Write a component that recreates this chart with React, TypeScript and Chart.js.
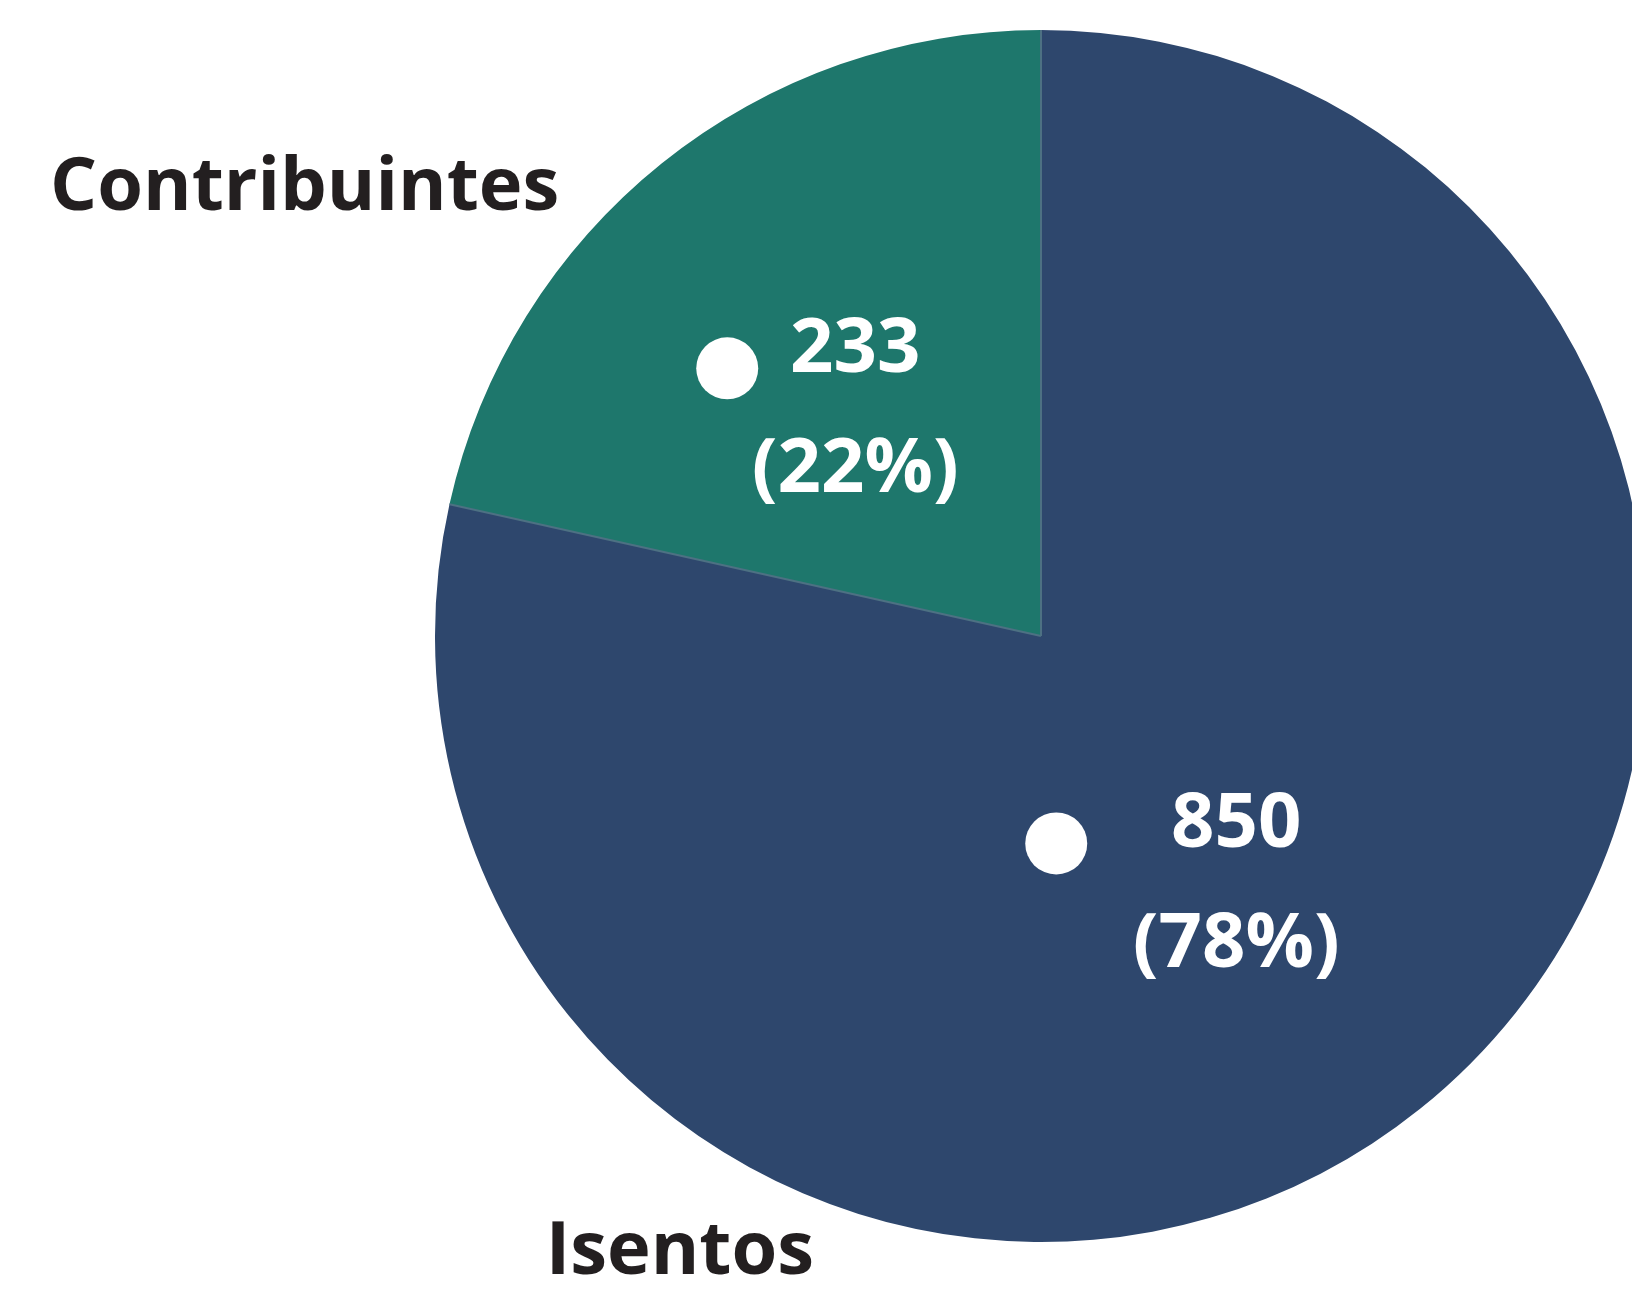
import React, { useEffect, useRef } from "react";
import { Chart, registerables } from "chart.js";

Chart.register(...registerables);

const categories = ["Isentos", "Contribuintes"];
const values = [850, 233];
const sliceColors = ["#2E476D", "#1E776C"];

const FONT = "'Open Sans', 'DejaVu Sans', sans-serif";

const labelPlugin = {
  id: "pieLabels",
  afterDatasetsDraw(chart: any, _args: any, opts: any) {
    const ctx = chart.ctx;
    const meta = chart.getDatasetMeta(0);
    const data = chart.data.datasets[0].data as number[];
    const total = data.reduce((a, b) => a + b, 0);
    const labels = chart.data.labels as string[];
    ctx.save();
    // separators
    meta.data.forEach((arc: any) => {
      const { x, y, startAngle, outerRadius } = arc.getProps(["x", "y", "startAngle", "outerRadius"], true);
      ctx.beginPath();
      ctx.moveTo(x, y);
      ctx.lineTo(x + Math.cos(startAngle) * outerRadius, y + Math.sin(startAngle) * outerRadius);
      ctx.strokeStyle = "#4d7183";
      ctx.lineWidth = 2;
      ctx.stroke();
    });
    meta.data.forEach((arc: any, i: number) => {
      const { x, y, startAngle, endAngle, outerRadius } = arc.getProps(
        ["x", "y", "startAngle", "endAngle", "outerRadius"],
        true
      );
      const mid = (startAngle + endAngle) / 2;
      const d = outerRadius * opts.labelRadius[i];
      const tx = x + Math.cos(mid) * d;
      const ty = y + Math.sin(mid) * d + opts.labelDy;
      const pct = Math.round((data[i] / total) * 100);
      ctx.fillStyle = "#ffffff";
      ctx.font = `bold ${opts.fontSize}px ${FONT}`;
      ctx.textAlign = "center";
      ctx.textBaseline = "middle";
      const lh = opts.lineHeight;
      ctx.fillText(String(data[i]), tx, ty - lh / 2);
      ctx.fillText(`(${pct}%)`, tx, ty + lh / 2);
      // legend key dot
      ctx.beginPath();
      ctx.arc(tx + opts.dotOffsets[i], ty - lh / 2 + opts.dotDy, opts.dotRadius, 0, Math.PI * 2);
      ctx.fill();
      // category label outside
      const off = opts.categoryOffsets[i];
      ctx.fillStyle = "#231F20";
      ctx.font = `bold ${opts.categoryFontSize}px ${FONT}`;
      ctx.fillText(labels[i], x + off[0] * outerRadius, y + off[1] * outerRadius);
    });
    ctx.restore();
  },
};

export default function App() {
  const ref = useRef<HTMLCanvasElement | null>(null);
  useEffect(() => {
    document.body.style.margin = "0";
    const canvas = ref.current!;
    const chart = new Chart(canvas, {
      type: "pie",
      data: {
        labels: categories,
        datasets: [
          {
            data: values,
            backgroundColor: sliceColors,
            borderWidth: 0,
            hoverOffset: 0,
          },
        ],
      },
      options: {
        responsive: false,
        animation: false,
        devicePixelRatio: 1,
        layout: { padding: { top: 30, bottom: 48, left: 435, right: 435 } },
        plugins: {
          legend: { display: false },
          tooltip: { enabled: false },
          pieLabels: {
            labelRadius: [0.515, 0.49],
            labelDy: 6,
            dotOffsets: [-180, -128],
            dotDy: 18,
            dotRadius: 31,
            fontSize: 76,
            categoryFontSize: 74,
            lineHeight: 120,
            categoryOffsets: [
              [-0.596, 1.018],
              [-1.215, -0.738],
            ],
          },
        } as any,
      },
      plugins: [labelPlugin],
    });
    return () => chart.destroy();
  }, []);
  return (
    <div style={{ position: "relative", width: 1632, height: 1290, overflow: "hidden", background: "#fff" }}>
      <canvas ref={ref} width={2082} height={1290} style={{ display: "block", width: 2082, height: 1290 }} />
    </div>
  );
}
